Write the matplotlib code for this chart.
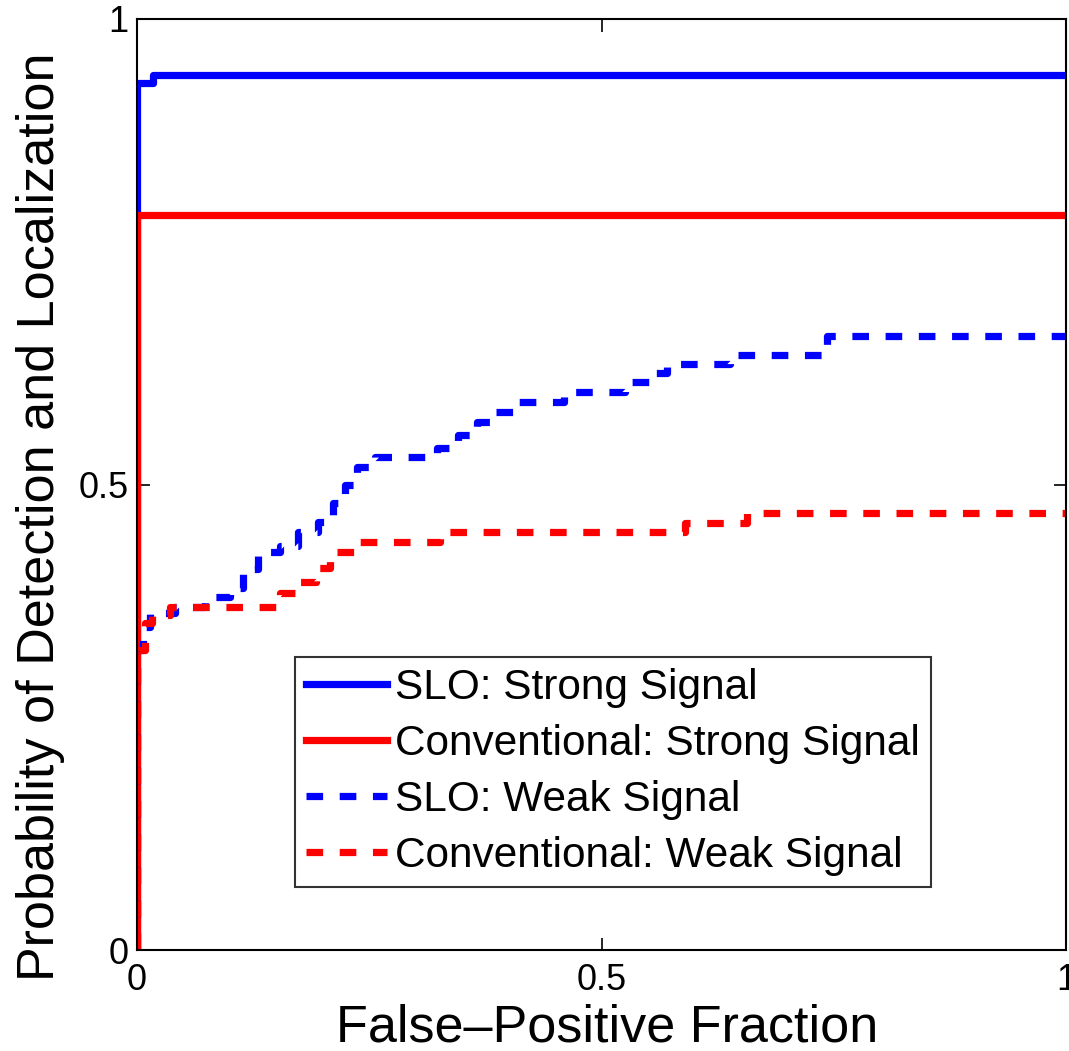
import matplotlib
matplotlib.use('Agg')
import matplotlib.pyplot as plt

plt.rcParams['font.family'] = ['Liberation Sans', 'DejaVu Sans']

# ROC-style curves (step knots)
slo_strong_x = [0.0, 0.0, 0.017, 1.0]
slo_strong_y = [0.0, 0.931, 0.940, 0.940]

conv_strong_x = [0.0, 0.0, 1.0]
conv_strong_y = [0.0, 0.790, 0.790]

slo_weak_x = [0.0, 0.0, 0.006, 0.014, 0.041, 0.073, 0.100, 0.114, 0.130, 0.154,
              0.173, 0.195, 0.211, 0.224, 0.237, 0.256, 0.323, 0.345, 0.366,
              0.385, 0.406, 0.460, 0.525, 0.552, 0.571, 0.638, 0.743, 1.0]
slo_weak_y = [0.0, 0.322, 0.347, 0.362, 0.368, 0.379, 0.389, 0.409, 0.427, 0.434,
              0.449, 0.460, 0.480, 0.500, 0.519, 0.530, 0.539, 0.553, 0.567,
              0.578, 0.589, 0.599, 0.610, 0.620, 0.629, 0.639, 0.659, 0.659]

conv_weak_x = [0.0, 0.0, 0.009, 0.016, 0.035, 0.154, 0.175, 0.193, 0.208, 0.234,
               0.326, 0.590, 0.657, 1.0]
conv_weak_y = [0.0, 0.322, 0.351, 0.360, 0.368, 0.383, 0.395, 0.410, 0.428, 0.438,
               0.449, 0.459, 0.469, 0.469]

labels = ['SLO: Strong Signal', 'Conventional: Strong Signal',
          'SLO: Weak Signal', 'Conventional: Weak Signal']

fig = plt.figure(figsize=(10.69, 10.51), dpi=100)
ax = fig.add_axes([137/1069, 101/1051, 929/1069, 931/1051])

lw = 5.2
ax.plot(slo_strong_x, slo_strong_y, color='#0000ff', lw=lw, drawstyle='steps-post', label=labels[0])
ax.plot(conv_strong_x, conv_strong_y, color='#ff0000', lw=lw, drawstyle='steps-post', label=labels[1])
ax.plot(slo_weak_x, slo_weak_y, color='#0000ff', lw=lw, ls=(0, (2.3, 2.3)), drawstyle='steps-post', label=labels[2])
ax.plot(conv_weak_x, conv_weak_y, color='#ff0000', lw=lw, ls=(0, (2.3, 2.3)), drawstyle='steps-post', label=labels[3])

ax.set_xlim(0, 1)
ax.set_ylim(0, 1)
ax.set_xticks([0, 0.5, 1])
ax.set_yticks([0, 0.5, 1])
ax.set_xticklabels(['0', '0.5', '1'])
ax.set_yticklabels(['0', '0.5', '1'])
ax.tick_params(direction='in', length=9, width=1.2, labelsize=26, top=True, right=True)
ax.tick_params(axis='x', pad=9)
ax.tick_params(axis='y', pad=6)
for s in ax.spines.values():
    s.set_linewidth(1.5)

ax.set_xlabel('False\u2013Positive Fraction', fontsize=37.5)
ax.set_ylabel('Probability of Detection and Localization', fontsize=37.5)
ax.xaxis.set_label_coords(0.506, -0.058)
ax.yaxis.set_label_coords(-0.077, 0.465)

leg = ax.legend(loc='lower left', bbox_to_anchor=(0.170, 0.068), borderaxespad=0,
                fontsize=30.5, frameon=True, fancybox=False, handlelength=1.92,
                handletextpad=0.2, labelspacing=0.38, borderpad=0.25)
leg.get_frame().set_edgecolor('black')
leg.get_frame().set_linewidth(1.5)

fig.savefig('out.png', dpi=100)
